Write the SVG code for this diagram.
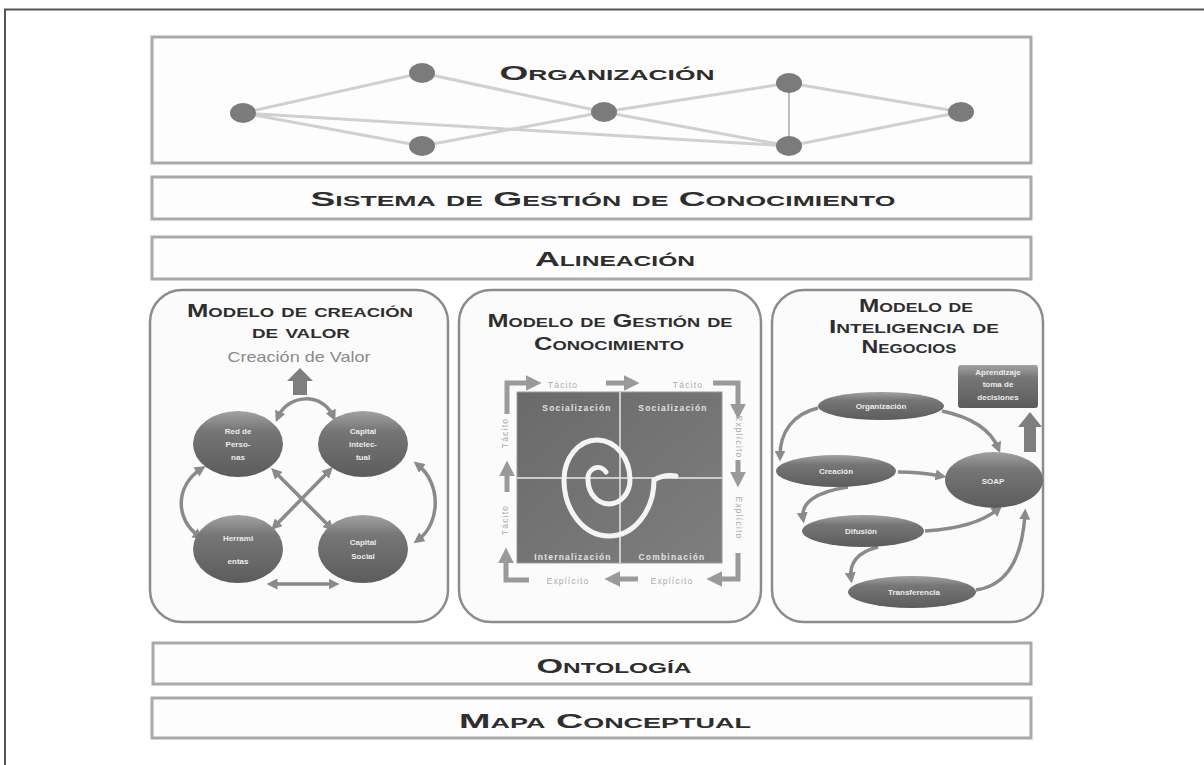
<svg xmlns="http://www.w3.org/2000/svg" width="1204" height="765" viewBox="0 0 1204 765">
<style>
.bar{fill:#fdfdfd;stroke:#a9a9a9;stroke-width:3}
.panel{fill:#fbfbfb;stroke:#8c8c8c;stroke-width:2.5}
.cap{font-family:"Liberation Sans",Arial,sans-serif;font-weight:bold;font-variant:small-caps;fill:#2e2e2e;text-anchor:middle}
.onode{fill:#7b7b7b}
.oedge{stroke:#d0d0d0;stroke-width:3;fill:none}
.arr{stroke:#8a8a8a;stroke-width:3.5;fill:none}
.arr2{stroke:#9a9a9a;stroke-width:5;fill:none}
.etx{font-family:"Liberation Sans",Arial,sans-serif;font-weight:bold;font-size:8px;fill:#ececec;text-anchor:middle}
.qtx{font-family:"Liberation Sans",Arial,sans-serif;font-weight:bold;font-size:8.5px;fill:#e2e2e2;text-anchor:middle;letter-spacing:1.2px}
.ltx{font-family:"Liberation Sans",Arial,sans-serif;font-size:8.5px;fill:#ababab;text-anchor:middle;letter-spacing:1.2px;dominant-baseline:central}
</style>
<defs>
<linearGradient id="eg" x1="0" y1="0" x2="0" y2="1">
<stop offset="0" stop-color="#a2a2a2"/>
<stop offset="0.3" stop-color="#767676"/>
<stop offset="1" stop-color="#5c5c5c"/>
</linearGradient>
<linearGradient id="sq" x1="0" y1="0" x2="1" y2="1">
<stop offset="0" stop-color="#6a6a6a"/>
<stop offset="1" stop-color="#7e7e7e"/>
</linearGradient>
<marker id="ah" viewBox="0 0 10 10" refX="5" refY="5" markerWidth="11" markerHeight="11" markerUnits="userSpaceOnUse" orient="auto-start-reverse">
<path d="M0,0 L10,5 L0,10 z" fill="#8a8a8a"/>
</marker>
<marker id="ah2" viewBox="0 0 10 10" refX="4" refY="5" markerWidth="16" markerHeight="16" markerUnits="userSpaceOnUse" orient="auto">
<path d="M0,0 L10,5 L0,10 z" fill="#9a9a9a"/>
</marker>
</defs>

<rect x="0" y="0" width="1204" height="765" fill="#ffffff"/>
<path d="M5,765 L5,9.5 L1204,9.5" fill="none" stroke="#555555" stroke-width="2"/>

<g id="node-organizacion">
<rect class="bar" x="152" y="37" width="879" height="126"/>
<text class="cap" x="607" y="80" font-size="21" textLength="215" lengthAdjust="spacingAndGlyphs">Organización</text>
</g>
<g id="node-sistema">
<rect class="bar" x="152" y="177" width="879" height="42"/>
<text class="cap" x="603" y="206" font-size="21" textLength="585" lengthAdjust="spacingAndGlyphs">Sistema de Gestión de Conocimiento</text>
</g>
<g id="node-alineacion">
<rect class="bar" x="152" y="237" width="879" height="42"/>
<text class="cap" x="615" y="266" font-size="21" textLength="160" lengthAdjust="spacingAndGlyphs">Alineación</text>
</g>
<g id="node-ontologia">
<rect class="bar" x="153" y="643" width="878" height="41"/>
<text class="cap" x="614" y="673" font-size="21" textLength="155" lengthAdjust="spacingAndGlyphs">Ontología</text>
</g>
<g id="node-mapa">
<rect class="bar" x="152" y="698" width="879" height="40"/>
<text class="cap" x="605" y="728" font-size="21" textLength="292" lengthAdjust="spacingAndGlyphs">Mapa Conceptual</text>
</g>

<g id="node-panel-valor">
<rect class="panel" x="150" y="290" width="298" height="332" rx="32"/>
<text class="cap" x="300" y="317" font-size="18" textLength="226" lengthAdjust="spacingAndGlyphs">Modelo de creación</text>
<text class="cap" x="301" y="338" font-size="18" textLength="98" lengthAdjust="spacingAndGlyphs">de valor</text>
<text x="299" y="362" font-family="'Liberation Sans',Arial,sans-serif" font-size="15" fill="#8a8a8a" text-anchor="middle" textLength="143" lengthAdjust="spacingAndGlyphs">Creación de Valor</text>
<polygon points="300,368 313,381 307,381 307,395 293,395 293,381 287,381" fill="#7e7e7e"/>
</g>
<g id="node-panel-gestion">
<rect class="panel" x="459" y="290" width="302" height="332" rx="32"/>
<text class="cap" x="610" y="327" font-size="18" textLength="245" lengthAdjust="spacingAndGlyphs">Modelo de Gestión de</text>
<text class="cap" x="609" y="350" font-size="18" textLength="150" lengthAdjust="spacingAndGlyphs">Conocimiento</text>
</g>
<g id="node-panel-negocios">
<rect class="panel" x="772" y="290" width="271" height="332" rx="32"/>
<text class="cap" x="916" y="312" font-size="18" textLength="114" lengthAdjust="spacingAndGlyphs">Modelo de</text>
<text class="cap" x="914" y="333" font-size="18" textLength="170" lengthAdjust="spacingAndGlyphs">Inteligencia de</text>
<text class="cap" x="909" y="353" font-size="18" textLength="95" lengthAdjust="spacingAndGlyphs">Negocios</text>
</g>

<g id="connectors">
<line class="oedge" x1="243" y1="113" x2="422" y2="73"/>
<line class="oedge" x1="243" y1="113" x2="422" y2="146"/>
<line class="oedge" x1="243" y1="113" x2="789" y2="146"/>
<line class="oedge" x1="422" y1="73" x2="604" y2="112"/>
<line class="oedge" x1="422" y1="146" x2="604" y2="112"/>
<line class="oedge" x1="604" y1="112" x2="789" y2="83"/>
<line class="oedge" x1="604" y1="112" x2="789" y2="146"/>
<line class="oedge" x1="789" y1="83" x2="961" y2="112"/>
<line class="oedge" x1="789" y1="146" x2="961" y2="112"/>
<line x1="789" y1="83" x2="789" y2="146" stroke="#a8a8a8" stroke-width="1.5"/>
<path class="arr" d="M278,417 C288,394 322,392 333,416" marker-start="url(#ah)" marker-end="url(#ah)"/>
<path class="arr" d="M201,469 C175,486 175,520 199,536" marker-start="url(#ah)" marker-end="url(#ah)"/>
<path class="arr" d="M418,465 C441,483 441,523 418,540" marker-start="url(#ah)" marker-end="url(#ah)"/>
<path class="arr" d="M275,472 L330,527" marker-start="url(#ah)" marker-end="url(#ah)"/>
<path class="arr" d="M329,471 L275,526" marker-start="url(#ah)" marker-end="url(#ah)"/>
<path class="arr" d="M272,584 L334,584" marker-start="url(#ah)" marker-end="url(#ah)"/>
<path class="arr2" d="M507,414 L507,383 L532,383" marker-end="url(#ah2)"/>
<path class="arr2" d="M606,383 L630,383" marker-end="url(#ah2)"/>
<path class="arr2" d="M713,383 L738,383 L738,410" marker-end="url(#ah2)"/>
<path class="arr2" d="M738,460 L738,478" marker-end="url(#ah2)"/>
<path class="arr2" d="M738,553 L738,579 L716,579" marker-end="url(#ah2)"/>
<path class="arr2" d="M638,579 L614,579" marker-end="url(#ah2)"/>
<path class="arr2" d="M529,580 L506,580 L506,557" marker-end="url(#ah2)"/>
<path class="arr2" d="M507,492 L507,470" marker-end="url(#ah2)"/>
<path class="arr" d="M818,408 C793,414 780,432 780,456" marker-end="url(#ah)"/>
<path class="arr" d="M942,411 C970,417 990,428 998,448" marker-end="url(#ah)"/>
<path class="arr" d="M898,472 Q920,472 941,476" marker-end="url(#ah)"/>
<path class="arr" d="M848,487 C814,492 801,504 803,518" marker-end="url(#ah)"/>
<path class="arr" d="M925,531 C958,529 984,521 998,509" marker-end="url(#ah)"/>
<path class="arr" d="M878,547 C857,552 849,564 851,578" marker-end="url(#ah)"/>
<path class="arr" d="M976,590 C1005,586 1022,562 1025,514" marker-end="url(#ah)"/>
</g>

<g id="org-nodes">
<ellipse class="onode" cx="243" cy="113" rx="13" ry="10"/>
<ellipse class="onode" cx="422" cy="73" rx="13" ry="10"/>
<ellipse class="onode" cx="422" cy="146" rx="13" ry="10"/>
<ellipse class="onode" cx="604" cy="112" rx="13" ry="10"/>
<ellipse class="onode" cx="789" cy="83" rx="13" ry="10"/>
<ellipse class="onode" cx="789" cy="146" rx="13" ry="10"/>
<ellipse class="onode" cx="961" cy="112" rx="13" ry="10"/>
</g>

<g id="node-red-personas">
<ellipse cx="238" cy="444" rx="45" ry="33" fill="url(#eg)"/>
<text class="etx" x="238" y="434">Red de</text>
<text class="etx" x="238" y="447">Perso-</text>
<text class="etx" x="238" y="460">nas</text>
</g>
<g id="node-capital-intelectual">
<ellipse cx="363" cy="444" rx="45" ry="33" fill="url(#eg)"/>
<text class="etx" x="363" y="434">Capital</text>
<text class="etx" x="363" y="447">intelec-</text>
<text class="etx" x="363" y="460">tual</text>
</g>
<g id="node-herramientas">
<ellipse cx="238" cy="549" rx="45" ry="34" fill="url(#eg)"/>
<text class="etx" x="238" y="541">Herrami</text>
<text class="etx" x="238" y="564">entas</text>
</g>
<g id="node-capital-social">
<ellipse cx="363" cy="549" rx="45" ry="34" fill="url(#eg)"/>
<text class="etx" x="363" y="545">Capital</text>
<text class="etx" x="363" y="559">Social</text>
</g>

<g id="node-matriz">
<rect x="517" y="392" width="205" height="171" fill="url(#sq)" stroke="#9a9a9a" stroke-width="1"/>
<line x1="620" y1="392" x2="620" y2="563" stroke="#e8e8e8" stroke-width="1.5"/>
<line x1="517" y1="478" x2="722" y2="478" stroke="#e8e8e8" stroke-width="1.5"/>
<text class="qtx" x="577" y="411">Socialización</text>
<text class="qtx" x="673" y="411">Socialización</text>
<text class="qtx" x="573" y="560">Internalización</text>
<text class="qtx" x="672" y="560">Combinación</text>
<path d="M606,472 A10,11 0 0 0 588,480 A21,24 0 0 0 630,480 A33,40 0 0 0 564,480 A45,56 0 0 0 654,480 Q664,474 676,476" fill="none" stroke="#f4f4f4" stroke-width="5" stroke-linecap="round"/>
<text class="ltx" x="563" y="385">Tácito</text>
<text class="ltx" x="688" y="385">Tácito</text>
<text class="ltx" x="568" y="581">Explícito</text>
<text class="ltx" x="672" y="581">Explícito</text>
<text class="ltx" transform="translate(739,437) rotate(90)" x="0" y="0">Explícito</text>
<text class="ltx" transform="translate(739,518) rotate(90)" x="0" y="0">Explícito</text>
<text class="ltx" transform="translate(505,433) rotate(-90)" x="0" y="0">Tácito</text>
<text class="ltx" transform="translate(505,520) rotate(-90)" x="0" y="0">Tácito</text>
</g>

<g id="node-aprendizaje">
<rect x="958" y="365" width="80" height="43" rx="3" fill="url(#eg)"/>
<text class="etx" x="998" y="375" font-size="7.5">Aprendizaje</text>
<text class="etx" x="998" y="387" font-size="7.5">toma de</text>
<text class="etx" x="998" y="400" font-size="7.5">decisiones</text>
<polygon points="1030,412 1042,427 1036,427 1036,452 1024,452 1024,427 1018,427" fill="#7e7e7e"/>
</g>
<g id="node-organizacion-bi">
<ellipse cx="881" cy="406" rx="63" ry="14" fill="url(#eg)"/>
<text class="etx" x="881" y="409">Organización</text>
</g>
<g id="node-creacion">
<ellipse cx="836" cy="471" rx="60" ry="16" fill="url(#eg)"/>
<text class="etx" x="836" y="474">Creación</text>
</g>
<g id="node-difusion">
<ellipse cx="863" cy="531" rx="61" ry="16" fill="url(#eg)"/>
<text class="etx" x="861" y="534">Difusión</text>
</g>
<g id="node-transferencia">
<ellipse cx="912" cy="592" rx="64" ry="16" fill="url(#eg)"/>
<text class="etx" x="914" y="595">Transferencia</text>
</g>
<g id="node-soap">
<ellipse cx="994" cy="480" rx="49" ry="28" fill="url(#eg)"/>
<text class="etx" x="993" y="484" font-size="11">SOAP</text>
</g>
</svg>
